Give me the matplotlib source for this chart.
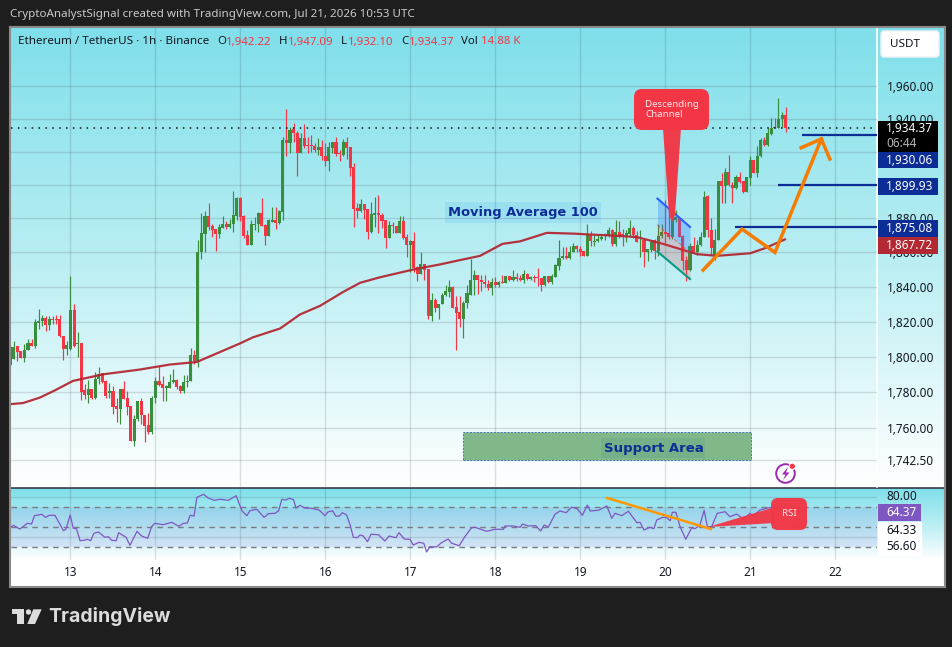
import numpy as np
import matplotlib
matplotlib.use("Agg")
import matplotlib.pyplot as plt
from matplotlib.colors import LinearSegmentedColormap
from matplotlib.patches import FancyBboxPatch, Rectangle, Polygon, Circle

# ---------------- data ----------------
first_hour = -17   # hours counted from day 13 00:00, one candle per hour
opens = [1795,1798.7,1806,1803,1799,1804,1807.5,1806,1819,1820.5,
 1822,1818,1821.5,1821.5,1821.5,1812,1804.5,1804.5,1826.5,1807,
 1807.5,1781,1778.5,1782,1777,1787.5,1790.5,1786.5,1779.3,1780.7,
 1772,1770.7,1782,1776.7,1772,1752.8,1765,1775,1767.3,1761.8,
 1758,1776.8,1786,1784.5,1782.5,1782.5,1785.5,1787,1783.5,1780.7,
 1785.5,1786,1800.7,1797.8,1860,1871,1881.5,1875.5,1873.5,1871,
 1874.5,1877,1875,1876.5,1881.5,1892,1881.5,1870,1864.5,1876,
 1876.5,1883,1876,1869.5,1878,1879,1877.5,1884,1927,1925,
 1933.5,1931,1919,1928,1924,1924,1923.5,1921,1923,1917.5,
 1914,1922,1925.5,1919,1918,1925.5,1922.5,1910.5,1886,1884.2,
 1888.3,1885.5,1872,1882,1883.5,1882,1879,1868.5,1876,1875.5,
 1871.5,1878.5,1869,1864.5,1866.5,1851.5,1847.5,1853,1850.5,1823,
 1832.5,1828,1830,1835,1837,1840,1828.5,1825.5,1821.5,1830.5,
 1835.5,1844,1847,1844,1843,1841.5,1839.5,1842.5,1841,1843,
 1842,1846,1844,1845.5,1845,1844,1847.5,1844.5,1845.5,1845.5,
 1845,1841,1846,1843,1845.5,1852,1856.5,1858,1856.5,1860,
 1863.5,1862,1861,1858,1871,1866,1866.5,1868,1869.5,1869.5,
 1873,1865,1872,1871,1869.5,1871,1874.5,1870.5,1867,1867,
 1860.5,1861.5,1867.5,1860.7,1869.5,1872,1871.5,1869,1879,1880,
 1869.5,1855.5,1849.5,1864,1860.5,1864.5,1869,1893.5,1873,1858,
 1867,1902.5,1899,1907.5,1900,1898,1904.5,1902.5,1895.5,1904,
 1915,1907,1917,1927,1924,1930.5,1935,1934.5,1939.5,1942.22]
highs = [1806,1809,1806,1803,1807,1810,1810,1821.5,1827,1824,
 1823,1823,1823,1823.5,1823.5,1812,1809,1846,1830,1814,
 1807.5,1784.5,1787,1782,1791.5,1794,1790.5,1787,1785,1783.5,
 1776.7,1782,1786,1780.5,1772,1767,1775,1776.7,1767.3,1768.5,
 1778,1788.5,1794.5,1789,1784,1790,1793,1787.5,1784,1789.7,
 1789.7,1805,1803.5,1867,1883.5,1884.5,1889,1877,1873.5,1876.5,
 1881.5,1878.5,1879.5,1896.5,1893,1893,1882,1873,1879,1881,
 1884,1892,1877,1879.5,1886.5,1886.5,1885,1929,1946,1935,
 1937.5,1932.5,1931,1937,1929,1930,1925,1928,1927,1925,
 1926,1926,1929,1921,1927.5,1929,1922.5,1913,1889,1891.7,
 1888.3,1885.5,1890,1893,1894,1883,1879,1878.5,1878,1875.5,
 1881.5,1881.5,1871,1867,1872,1852,1860,1853.5,1850.5,1836.5,
 1833.5,1830,1836.5,1841,1844,1840.5,1834.5,1834.5,1831.5,1841,
 1856,1850,1847,1847,1847,1844,1845,1845.5,1843.5,1847,
 1846,1846,1850,1848,1847,1850,1848,1846,1847,1851,
 1845,1846,1846,1847.5,1853.5,1867.5,1863,1863,1864,1865.5,
 1864.5,1863.5,1861,1876.5,1872.5,1870,1870,1871,1871.5,1875,
 1874,1879,1878.5,1874,1873,1879,1875.5,1872.5,1873,1867,
 1862,1866,1868,1877,1877,1891,1889,1885,1885,1880.5,
 1870,1858,1865.5,1869,1867.5,1872,1896.5,1894,1880.5,1874,
 1902.5,1907,1910,1918,1901.5,1906,1907.5,1902.5,1904.5,1917.5,
 1915,1923.5,1928,1929,1934,1940.5,1940.5,1952.5,1944,1947.09]
lows = [1794,1798.7,1797.5,1799,1797,1804,1806,1805,1816,1817.5,
 1814.5,1815,1818.5,1818.5,1811,1798,1801,1804,1805.5,1800,
 1775.5,1776,1774,1776,1776,1784.5,1785,1777,1777,1768,
 1763.5,1762.5,1776,1767.5,1752.8,1750,1764,1762,1752.5,1756.7,
 1756.7,1773.7,1783.5,1775,1774.8,1782.3,1785,1782,1779.6,1779.3,
 1782.8,1786,1796,1794,1856,1860,1873,1869,1861,1868.5,
 1874.5,1873.5,1874.5,1872,1879,1878.5,1868.5,1864.5,1864.5,1873,
 1872,1875.5,1864.5,1869.5,1878,1874,1877,1879,1917,1919,
 1926,1905,1919,1922,1919,1919.5,1919.5,1918,1915,1911.5,
 1908,1919,1917,1914,1917,1915.5,1905.5,1875,1880.5,1884,
 1879.6,1868,1871.5,1874.8,1871.5,1874.5,1862.5,1868.5,1871.5,1871.5,
 1871.5,1868,1857.5,1848.5,1848.5,1843.5,1847.5,1844,1821.5,1820.5,
 1825.5,1821.5,1830,1834.5,1834,1828,1803.5,1817,1810.5,1827.5,
 1835.5,1835.5,1836,1837.5,1840,1838,1835.5,1840,1840,1842,
 1842,1843.5,1843.5,1843.5,1843.5,1842,1844,1844,1843,1840.5,
 1837.5,1840.5,1842,1841.5,1845.5,1850,1856,1856,1856,1860,
 1860,1858,1858,1858,1863.5,1864,1866,1867,1867.5,1869,
 1864,1863.5,1868.5,1864,1866,1869.5,1868.5,1866,1857.5,1851.5,
 1855,1860,1856,1858,1868.5,1865,1868,1868,1878,1869,
 1849.5,1843.5,1849,1860,1858.5,1863.5,1869,1869,1858.5,1855.5,
 1867,1889,1889,1899,1889,1897.5,1901,1895,1895.5,1900,
 1907,1904.5,1916.5,1923.5,1923.5,1930,1934.5,1934,1935,1932.10]
closes = [1805.5,1805.5,1802.5,1799,1804,1807.5,1806,1819.5,1820.5,1822,
 1818,1821.5,1821,1821,1811.5,1804.5,1806.5,1826.5,1806,1807.5,
 1780,1778.5,1782,1777,1787.5,1790,1785.5,1777.7,1780.7,1771.8,
 1770.7,1782,1776.3,1771.8,1752.8,1765,1775,1767,1761.4,1758,
 1776.8,1786,1784,1782.5,1783.5,1785.5,1787,1783,1780.4,1785.5,
 1786,1800.7,1797.8,1860.5,1871.5,1881.5,1875,1873,1871,1875,
 1877,1875,1877,1882,1892,1881,1869.5,1864.5,1876.5,1876.5,
 1883,1875.5,1869.5,1879,1879,1877.5,1884.5,1927,1925,1933,
 1931,1919,1928,1923.5,1923.5,1923.5,1921,1923,1917,1914,
 1922.5,1925.5,1918.5,1918.5,1925.5,1922,1910,1885.5,1884.2,1888.3,
 1885,1872,1882.5,1883.5,1882,1878.5,1868.5,1876,1875.7,1871.5,
 1878.5,1868.5,1864.5,1866.5,1851,1847.5,1853,1850,1823,1832.5,
 1828,1830,1835.5,1837.5,1840,1828,1825,1821.5,1830.5,1836.5,
 1844,1847,1844,1842.5,1841.5,1839.5,1842.5,1841,1843,1842,
 1846,1844,1845.5,1844.5,1844,1847.5,1844.5,1845.5,1845.3,1845.3,
 1841,1846,1843,1846,1852.5,1857,1858,1856.5,1860.5,1863.5,
 1862,1860.5,1858,1871,1866.5,1866.5,1868,1869,1870,1873,
 1865,1872,1869.5,1869,1871.5,1874.5,1870,1866,1867.3,1860.5,
 1862,1866,1861,1869.5,1872,1871,1869,1880,1881,1869,
 1855,1849.5,1864,1860.5,1864.5,1869,1893,1873,1862.5,1867,
 1902.5,1899,1907.5,1900,1898,1904.5,1901.5,1895.5,1904.5,1915,
 1907,1917.5,1927,1924,1931,1934.5,1934.5,1939.5,1942,1934.37]

ma_hours = [-16.9,-13.4,-8.6,-4.4,0.7,9.2,19.6,28,35.7,47.9,51.6,59.2,64.8,70.5,77,81.8,87.4,96.8,104.4,110,115.7,
            122,127,134.6,142.5,146.7,152.4,160,167.4,177,182.6,192,196.2,201.9]
ma_values = [1773.3,1773.9,1777,1781,1786.3,1790,1792.7,1795.5,1797,1807.5,1811,1816,1824,1829,1837,1842.3,1845.5,1850,1853,1855.5,1858,
             1865,1866.5,1871.5,1871,1870.5,1870,1869,1865,1859,1858,1859.5,1862.5,1867.72]

rsi_hours = [-16.9,-16.2,-14.3,-12.2,-11,-10.2,-8.1,-7.1,-6,-4.4,-2,-1.3,-0.1,0.8,1.7,2.7,4.1,4.8,5.7,6.6,7.9,9.7,10.7,11.6,12.9,
 13.6,15.7,16.8,18.8,20.1,21.8,22.9,23.8,26.2,28.6,30.6,31.9,33,33.8,34.9,35.7,37.6,38.9,40.6,42.2,44.6,46.8,48.4,49.8,50.7,
 52.6,54.7,55.9,57.8,58.8,59.7,60.8,61.8,63,63.7,64.8,66.2,68.1,70.2,71.9,72.7,74,75,76,76.8,78,79,79.9,81,81.8,82.7,83.9,84.9,
 87,88.8,90,91.9,92.8,94.3,95.9,96.8,98.5,99.8,100.6,101.5,103.4,104.8,106.7,107.7,109.8,111.4,113.3,114.3,117.6,119.9,122.3,
 122.7,125.1,127,127.7,129.3,131.4,132.8,133.8,135,136.9,138.3,140,141.6,143.2,144.6,146,146.8,149.1,151.5,152.9,153.8,155.7,
 157.6,160,160.9,162,163.7,164.8,165.6,167.3,168.4,169.4,170,171,172.2,173.8,175.5,176.4,177.8,179,179.9,181.1,182.7,184.9,
 186.3,188.2,190.1,191.9,192.9,194.8,196.7,198.1,200.9,202]
rsi_values = [48.8,51.2,47.5,53.2,52.5,60.8,62.2,59.2,61.2,61.2,45.8,47.2,61.5,48.2,47.8,35.8,36.5,37.2,35.8,43.2,44.5,39.2,39.8,36.2,35.8,
 43.8,39.2,31.2,45.2,40.5,38.2,49.8,53.2,51.8,54.2,50.2,53.2,53.5,61.2,60.5,79.2,82.2,78.5,76.2,77.2,76.2,80.8,65.8,60.8,65.8,
 67.2,59.2,62.8,63.2,65.8,77.2,76.5,78.2,76.8,68.5,71.2,68.5,68.2,66.5,60.8,64.5,65.8,60.2,60.5,63.8,61.5,51.5,39.2,38.8,41.5,40.5,34.8,42.2,
 41.8,35.5,40.5,38.8,43.8,37.5,37.2,31.5,34.2,33.2,24.5,29.8,29.5,33.8,37.5,33.2,30.8,39.8,48.8,49.2,45.2,47.2,47.2,
 50.5,50.5,49.2,52.5,50.5,50.8,45.5,51.5,49.5,62.5,65.5,63.8,69.5,67.5,61.2,71.5,65.5,66.2,70.5,58.2,63.2,60.8,
 65.2,53.8,54.2,46.5,49.2,47.8,56.5,59.2,58.8,55.8,64.2,64.2,49.8,37.2,48.8,47.8,51.5,66.2,49.8,49.8,63.2,64.8,
 59.8,62.5,57.2,63.2,60.5,66.5,68.2,69.2,70.8,64.37]

price_ticks = [1960,1940,1920,1900,1880,1860,1840,1820,1800,1780,1760,1742.5]
hidden_price_labels = [1920,1900]   # covered by the level tags in the picture
rsi_levels = [70,50,30]
rsi_grid = [80,40]
day_ticks = [0,24,48,72,96,120,144,168,192,216]
day_labels = ['13','14','15','16','17','18','19','20','21','22']
target_levels = [1930.06,1899.93,1875.08]
target_starts = [206.6,199.8,187.8]
last_price = 1934.37
arrow_hours = [178.7,189.7,199,212.1]
arrow_prices = [1849.7,1873.7,1860,1927.6]
head_hours = [206.4,212.1,214.5]
head_prices = [1922.3,1927.6,1915.5]
channel_hours = [165.8,175]
channel_top = [1891.8,1875]
channel_mid = [1876.1,1860]
channel_bottom = [1860.5,1844.5]
support_hours = [110.9,192.2]
support_prices = [1742.5,1757.8]
rsi_trend_hours = [151.6,180.9]
rsi_trend_values = [78.5,47.5]

# ---------------- layout helpers ----------------
W, H = 953, 647
BG = '#1e1e1e'
fig = plt.figure(figsize=(W/100, H/100), dpi=100, facecolor=BG)
plt.rcParams['font.family'] = ['Noto Sans', 'DejaVu Sans']

def pane(x0, y0, x1, y1, z):
    a = fig.add_axes([x0/W, 1-y1/H, (x1-x0)/W, (y1-y0)/H], zorder=z)
    return a

# base white chart area with gradients
base = pane(10, 27, 945, 587, 0)
base.set_xlim(10, 945); base.set_ylim(587, 27); base.set_facecolor('white')
base.set_xticks([]); base.set_yticks([])
for s in base.spines.values():
    s.set_color('#8a8a8a'); s.set_linewidth(1.5)
cm = LinearSegmentedColormap.from_list('g', ['#7fdfea', '#b9eef3', '#ffffff'])
grad = np.linspace(0, 1, 256).reshape(-1, 1)
base.imshow(grad, cmap=cm, extent=(11, 944, 487, 28), aspect='auto', zorder=1)
base.imshow(grad, cmap=cm, extent=(11, 944, 560, 488), aspect='auto', zorder=1)
base.set_xlim(10, 945); base.set_ylim(587, 27)
base.plot([11, 944], [487.5, 487.5], color='#2a2e39', lw=1.1, zorder=2)
base.plot([877, 877], [28, 487], color='white', lw=1.2, zorder=2)
base.add_patch(Rectangle((878, 522), 43, 33, color='white', zorder=2))

# ---------------- price pane ----------------
PX_PER_H = 3.54
X0 = 70.5
def hour_of(px):
    return (px - X0) / PX_PER_H
ax = pane(11, 28, 877, 487, 1)
ax.patch.set_alpha(0)
ax.set_yscale('log')
ax.set_xlim(hour_of(11), hour_of(877))
ax.set_ylim(1960*np.exp(-401/3178), 1960*np.exp(58/3178))
ax.minorticks_off()
ax.set_yticks(price_ticks)
ax.set_yticklabels(['' if v in hidden_price_labels else f'{v:,.2f}' for v in price_ticks], fontsize=8.5, color='#131722')
ax.yaxis.tick_right()
ax.yaxis.set_minor_locator(matplotlib.ticker.NullLocator())
ax.tick_params(axis='y', length=0, pad=7)
ax.set_xticks(day_ticks); ax.tick_params(axis='x', length=0, labelbottom=False)
ax.grid(True, color='#2a2e39', alpha=0.15, lw=1)
ax.set_axisbelow(True)
for s in ax.spines.values():
    s.set_visible(False)

UP, DOWN = '#388e3c', '#f23645'
hours = np.arange(first_hour, first_hour + len(opens))
o, h, l, c = map(np.array, (opens, highs, lows, closes))
assert len(o) == len(h) == len(l) == len(c)
cols = [UP if ci >= oi else DOWN for oi, ci in zip(o, c)]
ax.vlines(hours, l, h, colors=cols, lw=0.85, zorder=3)
ax.bar(hours, np.maximum(np.abs(c-o), 0.5), bottom=np.minimum(o, c), width=0.86, color=cols, lw=0, zorder=3)

ax.plot(ma_hours, ma_values, color='#b22833', lw=1.6, alpha=0.95, zorder=4, solid_capstyle='round')
ax.axhline(last_price, color='#111111', lw=1.1, ls=(0, (1, 3.5)), zorder=5)

# support area
ax.add_patch(Rectangle((support_hours[0], support_prices[0]), support_hours[1]-support_hours[0],
                       support_prices[1]-support_prices[0], facecolor='#81b889',
                       edgecolor='#3f74b8', lw=0.7, ls=(0, (2, 1.5)), zorder=3))
# channel
ax.fill_between(channel_hours, channel_mid, channel_top, color='#2979ff', alpha=0.3, lw=0, zorder=4)
ax.fill_between(channel_hours, channel_bottom, channel_mid, color='#f23645', alpha=0.2, lw=0, zorder=4)
ax.plot(channel_hours, channel_top, color='#2962ff', lw=1.5, zorder=5)
ax.plot(channel_hours, channel_bottom, color='#089981', lw=1.5, zorder=5)
ax.plot(channel_hours, channel_mid, color='#f23645', lw=0.8, ls=(0, (3, 2)), alpha=0.6, zorder=5)
# targets
for lev, st in zip(target_levels, target_starts):
    ax.plot([st, hour_of(877)], [lev, lev], color='#0d2d96', lw=1.6, zorder=5, solid_capstyle='butt')
# arrows
ax.plot(arrow_hours, arrow_prices, color='#f57c00', lw=2.5, zorder=6, solid_joinstyle='miter')
ax.plot(head_hours, head_prices, color='#f57c00', lw=2.5, zorder=6, solid_joinstyle='miter')

# ---------------- RSI pane ----------------
rs = pane(11, 488, 877, 560, 1)
rs.patch.set_alpha(0)
rs.set_xlim(hour_of(11), hour_of(877))
rs.set_ylim(70-(560-506.5), 70-(488-506.5))
rs.set_xticks(day_ticks); rs.set_yticks(rsi_grid)
rs.tick_params(length=0, labelleft=False, labelbottom=False)
rs.grid(True, color='#2a2e39', alpha=0.15, lw=1)
rs.set_axisbelow(True)
for s in rs.spines.values():
    s.set_visible(False)
rs.axhspan(rsi_levels[2], rsi_levels[0], color='#6a6fd8', alpha=0.15, lw=0, zorder=1)
for v in rsi_levels:
    rs.axhline(v, color='#787b86', lw=1, ls=(0, (4, 3.5)), zorder=2)
rs.plot(rsi_hours, rsi_values, color='#7e57c2', lw=0.9, zorder=3)
rs.plot(rsi_trend_hours, rsi_trend_values, color='#ff9800', lw=1.8, zorder=4)

# ---------------- overlay in pixels ----------------
ov = fig.add_axes([0, 0, 1, 1], zorder=3)
ov.set_xlim(0, W); ov.set_ylim(H, 0); ov.axis('off'); ov.patch.set_alpha(0)

def text(x, y, s, **k):
    k.setdefault('va', 'center')
    k.setdefault('fontsize', 8.5)
    return ov.text(x, y, s, **k)

text(10, 15, 'CryptoAnalystSignal created with TradingView.com, Jul 21, 2026 10:53 UTC', color='#c9c9c9', fontsize=8.35)

DK, RD = '#131722', '#f23645'
legend = [(18, 'Ethereum / TetherUS · 1h · Binance', DK), (217, 'O', DK), (226, '1,942.22', RD),
          (279, 'H', DK), (288, '1,947.09', RD), (341, 'L', DK), (348, '1,932.10', RD),
          (401, 'C', DK), (409, '1,934.37', RD), (461, 'Vol', DK), (481, '14.88 K', RD)]
for x, s, col in legend:
    text(x, 42, s, color=col, fontsize=8.4 if x == 18 else 8.2)

ov.add_patch(FancyBboxPatch((881, 31), 58, 26, boxstyle='round,pad=0,rounding_size=3',
                            fc='white', ec='#eef3f5', lw=1))
text(890, 44.5, 'USDT', color='#131722', fontsize=8.4)

def box(x0, y0, x1, y1, col, s, tc='white', w='normal'):
    ov.add_patch(Rectangle((x0, y0), x1-x0, y1-y0, color=col, lw=0))
    text(x0+8, (y0+y1)/2, s, color=tc, fontsize=8.5, fontweight=w)

BLUE = '#0d2d96'
ov.add_patch(Rectangle((878, 121), 60, 31, color='black', lw=0))
text(886, 128.5, f'{last_price:,.2f}', color='white', fontsize=8.5)
text(886, 143.5, '06:44', color='#b5b5b5', fontsize=8.5)
box(878, 152, 938, 168, BLUE, f'{target_levels[0]:,.2f}')
box(878, 178, 938, 195, BLUE, f'{target_levels[1]:,.2f}')
box(878, 220, 938, 237, BLUE, f'{target_levels[2]:,.2f}')
box(878, 237, 938, 254, '#b22833', f'{ma_values[-1]:,.2f}')

# labels in RSI scale
text(886, 496, '80.00', color='#131722')
box(878, 504, 921, 521, '#7e57c2', f'{rsi_values[-1]:.2f}')
text(886, 530, '64.33', color='#131722')
text(886, 546.5, '56.60', color='#131722')
for xt, lab in zip(day_ticks, day_labels):
    text(X0 + PX_PER_H*xt, 572.5, lab, color='#131722', ha='center')

# Moving Average label
ov.add_patch(Rectangle((445, 202), 156, 21, color='#2196f3', alpha=0.13, lw=0))
text(448, 212.5, 'Moving Average 100', color=BLUE, fontsize=9.4, fontweight='bold', family='DejaVu Sans')
# Support label
ov.add_patch(Rectangle((601, 438), 104, 20, color='#5f9f8a', alpha=0.3, lw=0))
text(604, 448.5, 'Support Area', color=BLUE, fontsize=9.5, fontweight='bold', family='DejaVu Sans')

# Descending Channel callout
RED = '#f23645'
ov.add_patch(Polygon([(663, 128), (681, 128), (675, 215), (672, 222), (669, 215)], closed=True, color=RED, lw=0, alpha=0.97))
ov.add_patch(FancyBboxPatch((634, 89), 75, 41, boxstyle='round,pad=0,rounding_size=8', fc=RED, ec='none'))
text(645, 104.5, 'Descending', color='#ffe8ea', fontsize=7, fontweight='bold')
text(645, 114.5, 'Channel', color='#ffe8ea', fontsize=7, fontweight='bold')

# RSI callout
ov.add_patch(Polygon([(775, 507), (708, 527), (775, 523)], closed=True, color=RED, lw=0, alpha=0.95))
ov.add_patch(FancyBboxPatch((771, 498), 36, 32, boxstyle='round,pad=0,rounding_size=7', fc=RED, ec='none', alpha=0.97))
text(789, 513.5, 'RSI', color='#ffe8ea', fontsize=7, fontweight='bold', ha='center')

# lightning icon
ov.add_patch(Circle((785.5, 473.5), 9.3, fc='none', ec='#9c27b0', lw=1.4))
ov.add_patch(Polygon([(788, 467), (782, 474.5), (785.5, 474.5), (783, 480), (789.5, 472.5), (786, 472.5)],
                     closed=True, color='#9c27b0', lw=0))
ov.add_patch(Circle((792.3, 466.3), 3.2, fc=RED, ec='white', lw=0.8))

# TradingView logo
LOGO = '#dcdcdc'
ov.add_patch(Polygon([(12.3, 609.3), (24, 609.3), (24, 624), (17.3, 624), (17.3, 614.3), (12.3, 614.3)], closed=True, color=LOGO, lw=0))
ov.add_patch(Circle((28.5, 612), 2.7, color=LOGO, lw=0))
ov.add_patch(Polygon([(33.3, 609.3), (41.7, 609.3), (35, 624), (27.3, 624)], closed=True, color=LOGO, lw=0))
text(48.5, 616.5, 'TradingView', color=LOGO, fontsize=14, fontweight='bold', family='Inter')

fig.savefig('out.png', dpi=100, facecolor=BG)
